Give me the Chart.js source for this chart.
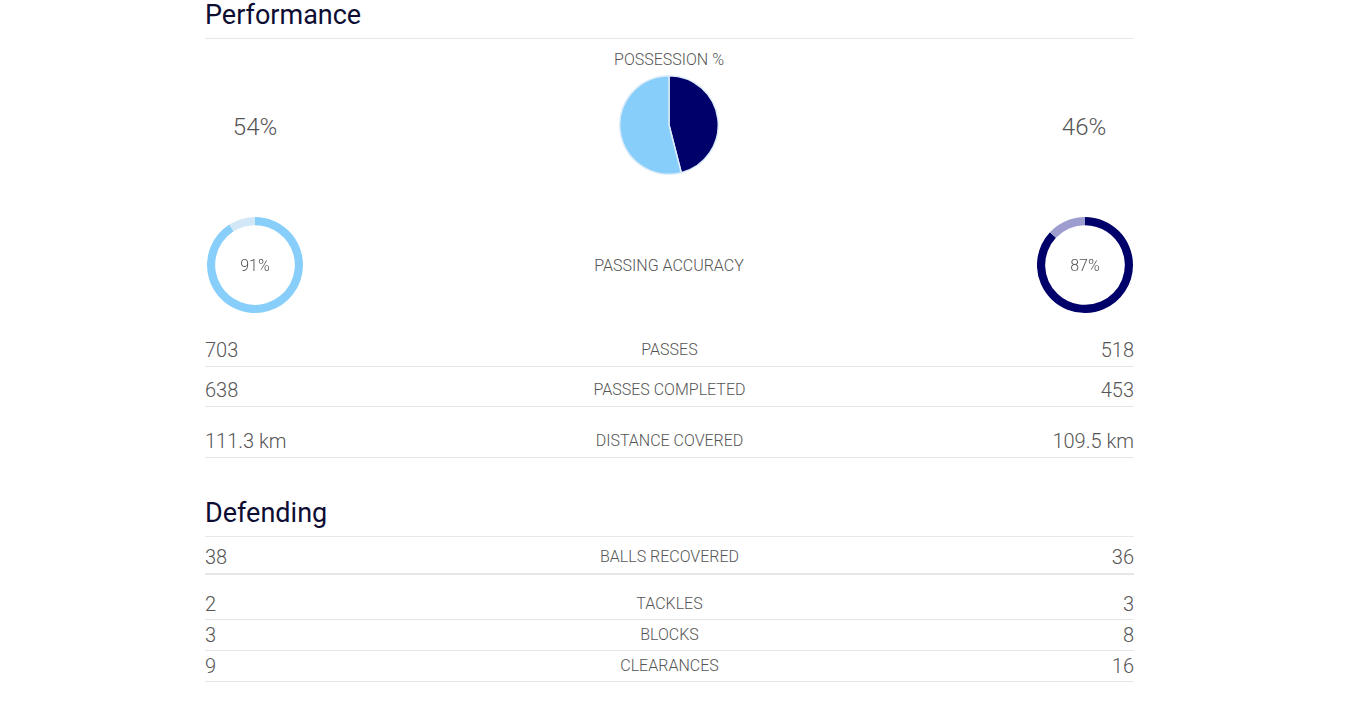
<!DOCTYPE html>
<html>
<head>
<meta charset="utf-8">
<script src="https://cdn.jsdelivr.net/npm/chart.js@4.4.0/dist/chart.umd.min.js"></script>
<style>
  body { margin: 0; background: #fff; font-family: Roboto, "Noto Sans", sans-serif; color: #555; }
  #page { position: relative; width: 1371px; height: 703px; overflow: hidden; }
  .title { position: absolute; left: 205px; width: 929px; font-size: 27px; color: #0d0d33; border-bottom: 1px solid #e8e8e8; }
  .row { position: absolute; left: 205px; width: 929px; border-bottom: 1px solid #e6e6e6; }
  .row span { position: absolute; top: 0; white-space: nowrap; }
  .row .l { left: 0; font-size: 20px; font-weight: 300; }
  .row .r { right: 0; font-size: 20px; font-weight: 300; }
  .row .c { left: 0; width: 929px; text-align: center; font-size: 16px; font-weight: 300; }
  .big { position: absolute; font-size: 24px; font-weight: 300; transform: translate(-50%, -50%); }
  .cap { position: absolute; font-size: 16px; font-weight: 300; transform: translate(-50%, -50%); white-space: nowrap; }
  .ring { position: absolute; }
  .ring div { position: absolute; left: 0; top: 0; width: 100%; height: 100%; display: flex; align-items: center; justify-content: center; font-size: 16px; font-weight: 300; }
</style>
</head>
<body>
<div id="page">
  <div class="title" style="top:0;height:38px;line-height:30px">Performance</div>
  <div class="cap" style="left:669px;top:59px">POSSESSION %</div>
  <div class="big" id="homePoss" style="left:255px;top:127px"></div>
  <div class="big" id="awayPoss" style="left:1084px;top:127px"></div>
  <canvas id="possChart" width="100" height="100" style="position:absolute;left:619px;top:75px"></canvas>
  <div class="cap" style="left:669px;top:265px">PASSING ACCURACY</div>
  <div class="ring" style="left:207px;top:217px;width:96px;height:96px">
    <canvas id="homeAcc" width="96" height="96"></canvas><div id="homeAccTxt"></div>
  </div>
  <div class="ring" style="left:1037px;top:217px;width:96px;height:96px">
    <canvas id="awayAcc" width="96" height="96"></canvas><div id="awayAccTxt"></div>
  </div>
  <div class="title" style="top:497px;height:39px;line-height:32px">Defending</div>
  <div id="rows"></div>
</div>
<script>
// possession and passing accuracy (%)
const possession = [54, 46];      // home, away
const passAccuracy = [91, 87];    // home, away

// stat rows
const perfLabels = ["PASSES", "PASSES COMPLETED", "DISTANCE COVERED"];
const perfHome = ["703", "638", "111.3 km"];
const perfAway = ["518", "453", "109.5 km"];

const defLabels = ["BALLS RECOVERED", "TACKLES", "BLOCKS", "CLEARANCES"];
const defHome = ["38", "2", "3", "9"];
const defAway = ["36", "3", "8", "16"];

const homeColor = "#87cefa";
const awayColor = "#00006b";

// row layout: [text centre y, line y]
const perfPos = [[350, 366], [390, 406], [441, 457]];
const defPos = [[557, 573], [604, 619], [635, 650], [666, 681]];

function addRows(labels, home, away, pos) {
  const box = document.getElementById("rows");
  labels.forEach((lab, i) => {
    const row = document.createElement("div");
    row.className = "row";
    const top = pos[i][0] - 12;
    row.style.top = top + "px";
    row.style.height = (pos[i][1] - top) + "px";
    row.style.lineHeight = "24px";
    if (i === 0 && labels === defLabels) row.style.borderBottomWidth = "2px";
    row.innerHTML = `<span class="l">${home[i]}</span><span class="c">${lab}</span><span class="r">${away[i]}</span>`;
    box.appendChild(row);
  });
}
addRows(perfLabels, perfHome, perfAway, perfPos);
addRows(defLabels, defHome, defAway, defPos);

document.getElementById("homePoss").textContent = possession[0] + "%";
document.getElementById("awayPoss").textContent = possession[1] + "%";

new Chart(document.getElementById("possChart"), {
  type: "pie",
  data: {
    labels: ["Away", "Home"],
    datasets: [{
      data: [possession[1], possession[0]],
      backgroundColor: [awayColor, homeColor],
      borderColor: "#dcecf8",
      borderWidth: 1.5
    }]
  },
  options: {
    responsive: false,
    animation: false,
    plugins: { legend: { display: false }, tooltip: { enabled: false } }
  }
});

function ring(id, value, color, rest) {
  document.getElementById(id + "Txt").textContent = value + "%";
  new Chart(document.getElementById(id), {
    type: "doughnut",
    data: {
      labels: ["Accurate", "Missed"],
      datasets: [{
        data: [value, 100 - value],
        backgroundColor: [color, rest],
        borderWidth: 0
      }]
    },
    options: {
      responsive: false,
      animation: false,
      cutout: "83%",
      plugins: { legend: { display: false }, tooltip: { enabled: false } }
    }
  });
}
ring("homeAcc", passAccuracy[0], homeColor, "#d2e8f6");
ring("awayAcc", passAccuracy[1], awayColor, "#9d9dcf");
</script>
</body>
</html>
